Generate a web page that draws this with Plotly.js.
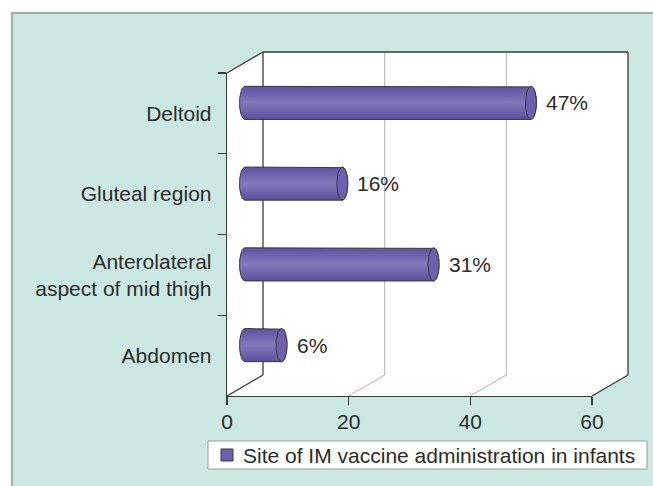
<!DOCTYPE html>
<html>
<head>
<meta charset="utf-8">
<script src="https://cdn.plot.ly/plotly-3.0.1.min.js"></script>
<style>html,body{margin:0;padding:0;background:#fff;}#chart{width:653px;height:486px;}</style>
</head>
<body>
<div id="chart"></div>
<script>
// ---- data ----
const categories = ['Deltoid', 'Gluteal region', 'Anterolateral<br>aspect of mid thigh', 'Abdomen'];
const values = [47, 16, 31, 6];
const valueLabels = ['47%', '16%', '31%', '6%'];
const xTicks = [0, 20, 40, 60];
const seriesName = 'Site of IM vaccine administration in infants';

// ---- geometry (pixels) ----
const W = 653, H = 486;
const FX0 = 227, FX1 = 592, FY0 = 73, FY1 = 396; // front frame
const DX = 36, DY = -21;                         // depth offset of back wall
const XMAX = 60;
const pxPerUnit = (FX1 - FX0) / XMAX;
const P = x => x / W;
const Q = y => 1 - y / H;

const FONT = 'Liberation Sans, Arial, sans-serif';
const TXT = '#2b2b2b';
const FRAME = '#3a3a3a';
const GRID = '#b4b4b4';

// mid-depth axes for cylinders
const midX0 = FX0 + DX / 2, midY0 = FY0 + DY / 2, midY1 = FY1 + DY / 2;
const x2min = -5, x2max = 65;

const traces = [];
// invisible trace to define category axis
traces.push({
  type: 'scatter', mode: 'markers', x: values, y: categories,
  xaxis: 'x', yaxis: 'y', marker: {opacity: 0}, hoverinfo: 'skip', showlegend: false
});

const rx = 5.5 / pxPerUnit;   // cap half-width in value units
const hh = 0.205;             // half bar thickness in category units
const N = 36;
values.forEach((v, i) => {
  const bx = [], by = [];
  bx.push(0); by.push(i - hh);
  bx.push(v); by.push(i - hh);
  for (let k = 0; k <= N; k++) { const t = Math.PI * k / N; bx.push(v + rx * Math.sin(t)); by.push(i - hh * Math.cos(t)); }
  bx.push(0); by.push(i + hh);
  for (let k = 0; k <= N; k++) { const t = Math.PI * k / N; bx.push(-rx * Math.sin(t)); by.push(i + hh * Math.cos(t)); }
  traces.push({
    type: 'scatter', mode: 'lines', x: bx, y: by, xaxis: 'x2', yaxis: 'y2',
    fill: 'toself',
    fillgradient: {type: 'vertical', colorscale: [[0, '#5c4c9b'], [0.5, '#8579bd'], [1, '#6050a0']]},
    line: {color: FRAME, width: 1}, hoverinfo: 'skip', showlegend: false
  });
  const cx = [], cy = [];
  for (let k = 0; k <= 2 * N; k++) { const t = Math.PI * k / N; cx.push(v + rx * Math.cos(t)); cy.push(i + hh * Math.sin(t)); }
  traces.push({
    type: 'scatter', mode: 'lines', x: cx, y: cy, xaxis: 'x2', yaxis: 'y2',
    fill: 'toself', fillcolor: '#6e5faf',
    line: {color: FRAME, width: 1}, hoverinfo: 'skip', showlegend: false
  });
});

// ---- frame shapes ----
const shapes = [];
// teal panel
shapes.push({type: 'rect', xref: 'paper', yref: 'paper', x0: P(12), x1: P(700), y0: Q(13), y1: Q(540),
  fillcolor: '#cce8e2', line: {color: '#a9a9a9', width: 2}, layer: 'below'});
// white box interior
const poly = [[FX0, FY0], [FX0 + DX, FY0 + DY], [FX1 + DX, FY0 + DY], [FX1 + DX, FY1 + DY], [FX1, FY1], [FX0, FY1]];
shapes.push({type: 'path', xref: 'paper', yref: 'paper',
  path: 'M' + poly.map(p => P(p[0]) + ',' + Q(p[1])).join('L') + 'Z',
  fillcolor: '#ffffff', line: {width: 0}, layer: 'below'});
function seg(x0, y0, x1, y1, color, w) {
  shapes.push({type: 'line', xref: 'paper', yref: 'paper', x0: P(x0), y0: Q(y0), x1: P(x1), y1: Q(y1),
    line: {color: color, width: w}, layer: 'below'});
}
// gridlines on floor and back wall
xTicks.slice(1, -1).forEach(t => {
  const fx = FX0 + t * pxPerUnit;
  seg(fx, FY1, fx + DX, FY1 + DY, GRID, 1);
  seg(fx + DX, FY1 + DY, fx + DX, FY0 + DY, GRID, 1);
});
// frame edges
seg(FX0, FY0, FX0 + DX, FY0 + DY, FRAME, 1.3);
seg(FX0 + DX, FY0 + DY, FX1 + DX, FY0 + DY, FRAME, 1.3);
seg(FX1 + DX, FY0 + DY, FX1 + DX, FY1 + DY, FRAME, 1.3);
seg(FX1 + DX, FY1 + DY, FX1, FY1, FRAME, 1.3);
seg(FX0 + DX, FY0 + DY, FX0 + DX, FY1 + DY, FRAME, 1.3);
seg(FX0 + DX, FY1 + DY, FX0, FY1, FRAME, 1.3);

// legend (manual)
shapes.push({type: 'rect', xref: 'paper', yref: 'paper', x0: P(208), x1: P(647), y0: Q(441), y1: Q(469),
  fillcolor: '#ffffff', line: {color: '#9a9a9a', width: 1}, layer: 'above'});
shapes.push({type: 'rect', xref: 'paper', yref: 'paper', x0: P(221), x1: P(233), y0: Q(449), y1: Q(461),
  fillcolor: '#6e5faf', line: {color: FRAME, width: 1}, layer: 'above'});

const annotations = values.map((v, i) => ({
  xref: 'x2', yref: 'y2', x: v, y: i, text: valueLabels[i], showarrow: false,
  xanchor: 'left', yanchor: 'middle', xshift: 13, font: {family: FONT, size: 21, color: TXT}
}));
annotations.push({xref: 'paper', yref: 'paper', x: P(241), y: Q(455), text: seriesName, showarrow: false,
  xanchor: 'left', yanchor: 'middle', font: {family: FONT, size: 21, color: TXT}});

const layout = {
  width: W, height: H,
  margin: {l: 0, r: 0, t: 0, b: 0},
  paper_bgcolor: '#ffffff', plot_bgcolor: 'rgba(0,0,0,0)',
  showlegend: false,
  xaxis: {domain: [P(FX0), P(FX1)], range: [0, XMAX], anchor: 'y', tickvals: xTicks,
    showgrid: false, zeroline: false, showline: true, linecolor: FRAME, linewidth: 1.3,
    ticks: 'outside', ticklen: 8, tickcolor: FRAME, tickwidth: 1.3, ticklabelstandoff: -2,
    tickfont: {family: FONT, size: 21, color: TXT}, fixedrange: true},
  yaxis: {domain: [Q(FY1), Q(FY0)], type: 'category', categoryorder: 'array', categoryarray: categories,
    range: [3.5, -0.5], anchor: 'x', showgrid: false, zeroline: false, showline: true, linecolor: FRAME, linewidth: 1.3,
    ticks: 'outside', tickson: 'boundaries', ticklen: 8, tickcolor: FRAME, tickwidth: 1.3, ticklabelstandoff: 10,
    tickfont: {family: FONT, size: 21, color: TXT}, fixedrange: true},
  xaxis2: {domain: [P(midX0 + x2min * pxPerUnit), P(midX0 + x2max * pxPerUnit)], range: [x2min, x2max],
    anchor: 'y2', visible: false, fixedrange: true},
  yaxis2: {domain: [Q(midY1), Q(midY0)], range: [3.5, -0.5], anchor: 'x2', visible: false, fixedrange: true},
  shapes: shapes,
  annotations: annotations
};

Plotly.newPlot('chart', traces, layout, {displayModeBar: false, staticPlot: true});
</script>
</body>
</html>
